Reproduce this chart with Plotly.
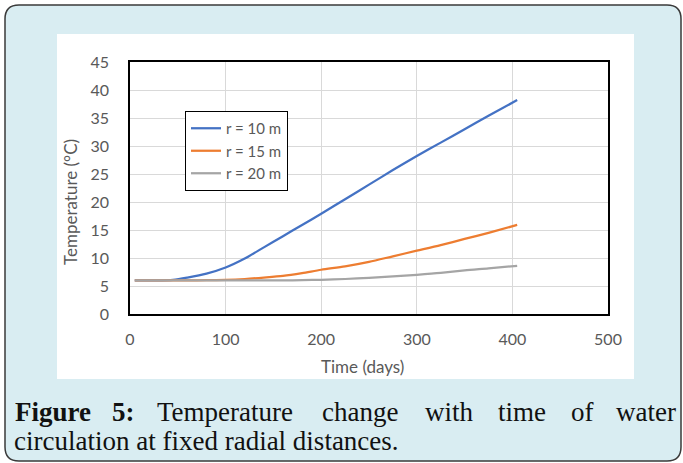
import plotly.graph_objects as go

# ---- data ----
days = [5, 25, 45, 60, 80, 100, 120, 140, 160, 180, 200, 225, 250, 275, 300, 325, 350, 375, 405]
temp_r10 = [6.0, 6.0, 6.1, 6.5, 7.2, 8.3, 9.9, 11.9, 13.9, 15.9, 17.9, 20.5, 23.1, 25.7, 28.2, 30.6, 33.0, 35.4, 38.2]
temp_r15 = [6.0, 6.0, 6.0, 6.0, 6.05, 6.1, 6.25, 6.5, 6.8, 7.3, 7.9, 8.5, 9.3, 10.3, 11.3, 12.3, 13.4, 14.5, 15.9]
temp_r20 = [6.0, 6.0, 6.0, 6.0, 6.0, 6.0, 6.0, 6.0, 6.0, 6.05, 6.1, 6.25, 6.45, 6.7, 7.0, 7.35, 7.8, 8.15, 8.6]
series_names = ["r = 10 m", "r = 15 m", "r = 20 m"]
series_colors = ["#4472C4", "#ED7D31", "#A5A5A5"]
x_ticks = [0, 100, 200, 300, 400, 500]
y_ticks = [0, 5, 10, 15, 20, 25, 30, 35, 40, 45]

W, H = 683, 463
L, R, T, B = 130, 608, 62, 314


def px(x):
    return (x - L) / (R - L)


def py(y):
    return (B - y) / (B - T)


fig = go.Figure()
for name, vals, col in zip(series_names, [temp_r10, temp_r15, temp_r20], series_colors):
    fig.add_trace(go.Scatter(x=days, y=vals, mode="lines", name=name,
                             legendgroup=name,
                             line=dict(color=col, width=2.25, shape="spline", smoothing=0.8)))

tick_font = dict(family="Lato", size=16, color="#595959")
title_font = dict(family="Lato", size=17, color="#595959")

# rounded outer panel
x0, y0, x1, y1, r = 5, 5, 681, 461, 14
path = (f"M {px(x0 + r)},{py(y0)} L {px(x1 - r)},{py(y0)} Q {px(x1)},{py(y0)} {px(x1)},{py(y0 + r)} "
        f"L {px(x1)},{py(y1 - r)} Q {px(x1)},{py(y1)} {px(x1 - r)},{py(y1)} "
        f"L {px(x0 + r)},{py(y1)} Q {px(x0)},{py(y1)} {px(x0)},{py(y1 - r)} "
        f"L {px(x0)},{py(y0 + r)} Q {px(x0)},{py(y0)} {px(x0 + r)},{py(y0)} Z")
shapes = [
    dict(type="path", xref="paper", yref="paper", path=path, layer="below",
         fillcolor="#D9EDF2", line=dict(color="#3A3A3A", width=1.5)),
    dict(type="rect", xref="paper", yref="paper", layer="below",
         x0=px(57), x1=px(634), y0=py(34), y1=py(379),
         fillcolor="white", line=dict(width=0)),
]

annotations = [
    dict(text="Temperature (°C)", xref="paper", yref="paper", x=px(70), y=py(202),
         textangle=-90, showarrow=False, xanchor="center", yanchor="middle",
         font=title_font),
    dict(text="Time (days)", xref="paper", yref="paper", x=px(362), y=py(366),
         showarrow=False, xanchor="center", yanchor="middle",
         font=title_font),
]

cap_font = dict(family="Liberation Serif", size=27, color="#111111")
line1 = [("<b>Figure</b>", 13, "left"), ("<b>5:</b>", 110, "left"), ("Temperature", 155, "left"),
         ("change", 320, "left"), ("with", 423, "left"), ("time", 496, "left"),
         ("of", 569, "left"), ("water", 678, "right")]
for txt, xx, anc in line1:
    annotations.append(dict(text=txt, xref="paper", yref="paper", x=px(xx), y=py(412),
                            showarrow=False, xanchor=anc, yanchor="middle", font=cap_font))
annotations.append(dict(text="circulation at fixed radial distances.", xref="paper", yref="paper",
                        x=px(12), y=py(441), showarrow=False, xanchor="left", yanchor="middle",
                        font=cap_font))

fig.update_layout(
    width=W, height=H,
    margin=dict(l=L, r=W - R, t=T, b=H - B),
    paper_bgcolor="white", plot_bgcolor="white",
    shapes=shapes, annotations=annotations,
    showlegend=True,
    legend=dict(x=px(185), y=py(111), xanchor="left", yanchor="top",
                bgcolor="white", bordercolor="black", borderwidth=1,
                font=dict(family="Lato", size=15, color="#595959"),
                traceorder="grouped", tracegroupgap=0, itemwidth=30),
    xaxis=dict(range=[0, 500], tickvals=x_ticks, showgrid=True, gridcolor="#D9D9D9", gridwidth=1,
               showline=True, linecolor="black", linewidth=1.5, mirror=True, ticks="",
               zeroline=False, tickfont=tick_font, ticklabelstandoff=10),
    yaxis=dict(range=[0, 45], tickvals=y_ticks, showgrid=True, gridcolor="#D9D9D9", gridwidth=1,
               showline=True, linecolor="black", linewidth=1.5, mirror=True, ticks="",
               zeroline=False, tickfont=tick_font, ticklabelstandoff=16),
)

fig.write_html("out.html", config={"displayModeBar": False},
               post_script="document.body.style.margin='0';document.body.style.padding='0';")
